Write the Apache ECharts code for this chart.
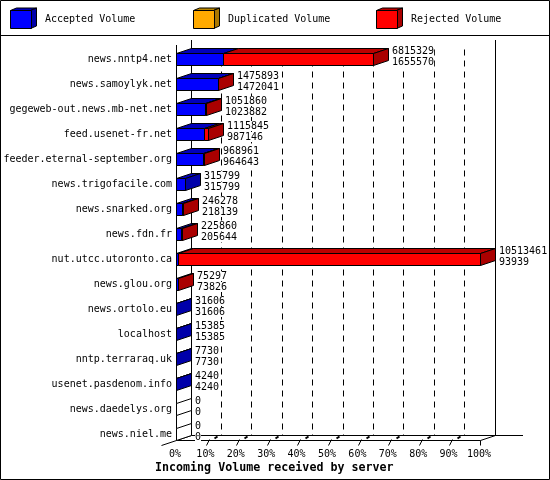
<!DOCTYPE html>
<html>
<head>
<meta charset="utf-8">
<style>html,body{margin:0;padding:0;background:#fff}#c{width:550px;height:480px}</style>
<script src="https://cdn.jsdelivr.net/npm/echarts@6/dist/echarts.min.js"></script>
</head>
<body>
<div id="c"></div>
<script>
var servers = ["news.nntp4.net","news.samoylyk.net","gegeweb-out.news.mb-net.net","feed.usenet-fr.net","feeder.eternal-september.org","news.trigofacile.com","news.snarked.org","news.fdn.fr","nut.utcc.utoronto.ca","news.glou.org","news.ortolo.eu","localhost","nntp.terraraq.uk","usenet.pasdenom.info","news.daedelys.org","news.niel.me"];
var offered  = [6815329,1475893,1051860,1115845,968961,315799,246278,225860,10513461,75297,31606,15385,7730,4240,0,0];
var accepted = [1655570,1472041,1023882,987146,964643,315799,218139,205644,93939,73826,31606,15385,7730,4240,0,0];
var duplicated = [0,0,0,0,0,0,0,0,0,0,0,0,0,0,0,0];
var rejected = [5159759,3852,27978,128699,4318,0,28139,20216,10419522,1471,0,0,0,0,0,0];
var percentTicks = [0,10,20,30,40,50,60,70,80,90,100];
var maxVolume = 10513461;

var DX = 15, DY = 5, BAR_H = 12;
var FONT = '"DejaVu Sans Mono","Liberation Mono",monospace';
var INK = '#000';
var faces = {
  'Accepted Volume':   {front:'#0000ff', top:'#0000bb', side:'#0000aa'},
  'Duplicated Volume': {front:'#ffaa00', top:'#bb8800', side:'#aa7700'},
  'Rejected Volume':   {front:'#ff0000', top:'#bb0000', side:'#aa0000'}
};
function poly(points, fill, stroke) {
  return {type:'polygon', shape:{points:points}, style:{fill:fill, stroke:stroke||INK, lineWidth:1}};
}
function line(x1,y1,x2,y2,extra) {
  var s = {stroke:INK, lineWidth:1};
  if (extra) for (var k in extra) s[k] = extra[k];
  return {type:'line', shape:{x1:x1,y1:y1,x2:x2,y2:y2}, style:s};
}
function segmentRenderer(name, values, bases, lastFlag) {
  return function (params, api) {
    var i = params.dataIndex, v = values[i];
    var total = offered[i];
    if (!(v > 0) && !(total === 0 && name === 'Accepted Volume')) return {type:'group', children:[]};
    var base = bases[i];
    var y = api.coord([0, i])[1];
    var x0 = Math.floor(api.coord([base, i])[0]) + 0.5;
    var x1 = Math.floor(api.coord([base + v, i])[0]) + 0.5;
    var top = Math.round(y - BAR_H / 2) + 0.5, bot = top + BAR_H;
    var f = faces[name], kids = [];
    if (v > 0) {
      kids.push(poly([[x0,top],[x1,top],[x1+DX,top-DY],[x0+DX,top-DY]], f.top));
      kids.push(poly([[x0,top],[x1,top],[x1,bot],[x0,bot]], f.front));
    }
    if (lastFlag(i)) {
      kids.push(poly([[x1,top],[x1+DX,top-DY],[x1+DX,bot-DY],[x1,bot]], total === 0 ? '#fff' : f.side));
    }
    return {type:'group', children:kids};
  };
}
var zeroBase = servers.map(function(){return 0;});
var acceptedEnd = accepted.slice();
var dupEnd = accepted.map(function(a,i){return a + duplicated[i];});

function frameRenderer(params, api) {
  var v = percentTicks[params.dataIndex] / 100 * maxVolume;
  var fx = Math.floor(api.coord([v, 0])[0]) + 0.5;
  var bx = fx + DX;
  var kids = [];
  if (v > 0 && v < maxVolume) {
    kids.push(line(bx, 49.5, bx, 435.5, {lineDash:[6,5]}));
    kids.push(line(fx, 445.5, fx + 3, 439.5));
    kids.push(line(fx + 8, 438.5, fx + 11, 436.5, {lineWidth:2}));
  } else if (v === 0) {
    kids.push(line(bx, 40, bx, 435.5));
    kids.push(line(fx, 45, fx, 440.5));
    kids.push(line(fx - 15, 445.5, bx, 435.5));
    kids.push(line(bx, 435.5, 523, 435.5));
    kids.push(line(fx, 440.5, fx + 304, 440.5));
  } else {
    kids.push(line(bx, 40, bx, 435.5));
    kids.push(line(fx, 440.5, bx, 435.5));
    kids.push(line(fx, 440.5, fx, 445.5));
  }
  return {type:'group', children:kids};
}
function labelRenderer(params, api) {
  var i = params.dataIndex;
  var lastEnd = offered[i];
  var y = api.coord([0, i])[1];
  var x = Math.floor(api.coord([lastEnd, i])[0]) + DX + 4;
  var t = {font:'10px ' + FONT, fill:INK, backgroundColor:'#fff', verticalAlign:'middle', align:'left'};
  function txt(s, ty) {
    var st = {text:String(s), x:x, y:ty};
    for (var k in t) st[k] = t[k];
    return {type:'text', style:st};
  }
  return {type:'group', children:[txt(offered[i], y - 8), txt(accepted[i], y + 3)]};
}
function swatch(x, name) {
  var f = faces[name], l = x + 0.5, r = l + 20, t = 10.5, b = 28.5;
  return [
    {type:'polygon', shape:{points:[[l,t],[r,t],[r+6,t-2.5],[l+6,t-2.5]]}, style:{fill:f.top,stroke:INK}},
    {type:'polygon', shape:{points:[[r,t],[r+6,t-2.5],[r+6,b-2.5],[r,b]]}, style:{fill:f.side,stroke:INK}}
  ];
}
function legendFor(name, x) {
  return {
    data:[name], left:x, top:10, itemWidth:21, itemHeight:18, itemGap:0,
    icon:'rect', selectedMode:false, padding:0,
    itemStyle:{borderColor:INK, borderWidth:1},
    textStyle:{fontFamily:FONT, fontSize:10, color:INK, padding:[0,0,0,8.5]}
  };
}
var seriesData = servers.map(function(s,i){return [offered[i], i];});
var common = function(name, render) {
  return {
    name:name, type:'custom', renderItem:render, clip:false, coordinateSystem:'cartesian2d',
    itemStyle:{color:faces[name] ? faces[name].front : INK},
    encode:{x:0,y:1}, data:seriesData, silent:true, animation:false
  };
};
function acceptedIsLast(i){return rejected[i] === 0 && duplicated[i] === 0;}
function duplicatedIsLast(i){return duplicated[i] > 0 && rejected[i] === 0;}
function rejectedIsLast(i){return rejected[i] > 0;}

var chart = echarts.init(document.getElementById('c'), null, {renderer:'canvas', width:550, height:480});
chart.setOption({
  animation:false,
  backgroundColor:'#fff',
  title:{
    text:'Incoming Volume received by server', left:155, top:462, padding:0,
    textStyle:{fontFamily:FONT, fontSize:11.67, fontWeight:'bold', color:INK}
  },
  legend:[legendFor('Accepted Volume',10), legendFor('Duplicated Volume',193), legendFor('Rejected Volume',376)],
  grid:{left:176, top:46.5, width:304, height:400, containLabel:false},
  xAxis:{
    type:'value', min:0, max:maxVolume, interval:maxVolume/10,
    axisLine:{show:false}, axisTick:{show:false}, splitLine:{show:false},
    axisLabel:{
      margin:3, padding:[0,2,0,0], fontFamily:FONT, fontSize:10, color:INK, hideOverlap:false,
      formatter:function(v){return Math.round(v / maxVolume * 100) + '%';}
    }
  },
  yAxis:{
    type:'category', inverse:true, data:servers,
    axisLine:{show:false}, axisTick:{show:false}, splitLine:{show:false},
    axisLabel:{margin:4, padding:[2,0,0,0], fontFamily:FONT, fontSize:10, color:INK, interval:0}
  },
  graphic:{elements:[
    {type:'rect', z:-10, silent:true, shape:{x:0.5,y:0.5,width:549,height:479}, style:{fill:'none',stroke:INK,lineWidth:1}},
    {type:'line', z:-10, silent:true, shape:{x1:0,y1:35.5,x2:550,y2:35.5}, style:{stroke:INK,lineWidth:1}}
  ].concat(swatch(10,'Accepted Volume'), swatch(193,'Duplicated Volume'), swatch(376,'Rejected Volume'))},
  series:[
    Object.assign(common('frame', frameRenderer), {data:percentTicks.map(function(p){return [p/100*maxVolume,0];}), z:1}),
    Object.assign(common('Accepted Volume', segmentRenderer('Accepted Volume', accepted, zeroBase, acceptedIsLast)), {z:3}),
    Object.assign(common('Duplicated Volume', segmentRenderer('Duplicated Volume', duplicated, acceptedEnd, duplicatedIsLast)), {z:3}),
    Object.assign(common('Rejected Volume', segmentRenderer('Rejected Volume', rejected, dupEnd, rejectedIsLast)), {z:3}),
    Object.assign(common('values', labelRenderer), {z:2})
  ]
});
</script>
</body>
</html>
